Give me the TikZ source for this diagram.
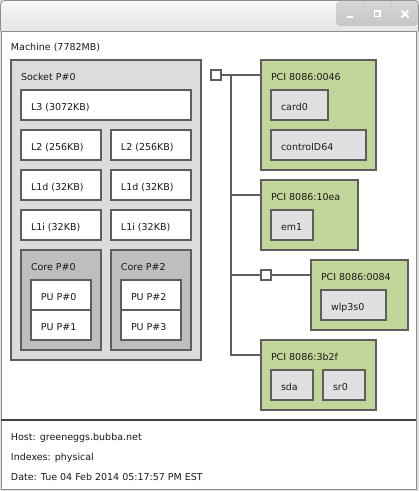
\documentclass[tikz,border=0pt]{standalone}
\usepackage{fontspec}
\setmainfont{DejaVu Sans}
\usetikzlibrary{calc}
\definecolor{edge}{HTML}{5E5E5E}
\definecolor{sockfill}{HTML}{DCDCDC}
\definecolor{corefill}{HTML}{BEBEBE}
\definecolor{pcifill}{HTML}{C2D69A}
\definecolor{osfill}{HTML}{E0E0E0}
\definecolor{frame}{HTML}{8E8E8E}
\tikzset{
  box/.style={draw=edge, line width=1.1pt, inner sep=0pt, outer sep=0pt, anchor=north west},
  lbl/.style={inner sep=0pt, outer sep=0pt, anchor=base west, font=\fontsize{9.5}{11}\selectfont, text=black!90},
  conn/.style={draw=edge, line width=1.1pt},
  bridge/.style={draw=edge, fill=white, line width=1.1pt, inner sep=0pt, minimum size=10pt},
}
\newcommand{\bx}[7]{%
  \node[box, #6, minimum width={(#4)-(#2)}, minimum height={(#5)-(#3)}] (#1) at (#2,#3) {};
  \node[lbl] (#1-t) at ({#2+10},{#3+20}) {#7};}
\begin{document}
\begin{tikzpicture}[x=1pt,y=-1pt]
\useasboundingbox (0,0) rectangle (419,491);
% window frame
\fill[black!12] (0,0) rectangle (419,491);
\shade[top color=black!3, bottom color=black!10, draw=frame, line width=0.8pt, rounded corners=4pt]
  (0.5,31) -- (0.5,0.5) -- (418.5,0.5) -- (418.5,31);
\shade[top color=black!16, bottom color=black!22, rounded corners=4pt]
  (336,0.9) -- (336,26) -- (418.1,26) -- (418.1,0.9) -- cycle;
\draw[white!80!black, line width=0.8pt] (363,1) -- (363,26) (391,1) -- (391,26);
\draw[white, line width=2pt] (347,17) -- (353,17);
\draw[white, line width=1.8pt] (374.5,11) rectangle (380,16.5);
\draw[white, line width=2pt] (401.5,10.5) -- (408.5,17.5) (401.5,17.5) -- (408.5,10.5);
\fill[white, draw=frame, line width=0.8pt] (1,31) rectangle (416,489);
\draw[black!75, line width=1.2pt] (1,420) -- (416,420);
% machine
\node[lbl] (mach) at (11,50) {Machine (7782MB)};
% socket
\bx{sock}{11}{60}{201}{360}{fill=sockfill}{Socket P\#0}
\bx{l3}{21}{90}{191}{120}{fill=white}{L3 (3072KB)}
\bx{l2a}{21}{130}{101}{160}{fill=white}{L2 (256KB)}
\bx{l2b}{111}{130}{191}{160}{fill=white}{L2 (256KB)}
\bx{l1da}{21}{170}{101}{200}{fill=white}{L1d (32KB)}
\bx{l1db}{111}{170}{191}{200}{fill=white}{L1d (32KB)}
\bx{l1ia}{21}{210}{101}{240}{fill=white}{L1i (32KB)}
\bx{l1ib}{111}{210}{191}{240}{fill=white}{L1i (32KB)}
\bx{corea}{21}{250}{101}{350}{fill=corefill}{Core P\#0}
\bx{coreb}{111}{250}{191}{350}{fill=corefill}{Core P\#2}
\bx{pu0}{31}{280}{91}{310}{fill=white}{PU P\#0}
\bx{pu1}{31}{310}{91}{340}{fill=white}{PU P\#1}
\bx{pu2}{121}{280}{181}{310}{fill=white}{PU P\#2}
\bx{pu3}{121}{310}{181}{340}{fill=white}{PU P\#3}
% PCI devices
\bx{pci1}{261}{60}{376}{170}{fill=pcifill}{PCI 8086:0046}
\bx{card}{271}{90}{328}{120}{fill=osfill}{card0}
\bx{ctrl}{271}{130}{366}{160}{fill=osfill}{controlD64}
\bx{pci2}{261}{180}{358}{250}{fill=pcifill}{PCI 8086:10ea}
\bx{em}{271}{210}{313}{240}{fill=osfill}{em1}
\bx{pci3}{311}{260}{408}{330}{fill=pcifill}{PCI 8086:0084}
\bx{wlp}{321}{290}{386}{320}{fill=osfill}{wlp3s0}
\bx{pci4}{261}{340}{376}{410}{fill=pcifill}{PCI 8086:3b2f}
\bx{sda}{271}{370}{313}{400}{fill=osfill}{sda}
\bx{sr}{323}{370}{365}{400}{fill=osfill}{sr0}
% bridges and bus
\node[bridge] (hb) at (216,75) {};
\node[bridge] (pb) at (266,275) {};
\coordinate (j1) at ($(pci1.north west)+(0,15)$);
\coordinate (j2) at ($(pci2.north west)+(0,15)$);
\coordinate (j3) at ($(pci3.north west)+(0,15)$);
\coordinate (j4) at ($(pci4.north west)+(0,15)$);
\coordinate (bt) at (231,75);
\coordinate (bb) at (231,355);
\draw[conn] (hb.east) -- (j1);
\draw[conn] (bt) -- (bb |- j4) -- (j4);
\draw[conn] (bt |- j2) -- (j2);
\draw[conn] (bt |- pb) -- (pb.west);
\draw[conn] (pb.east) -- (j3);
% footer
\node[lbl] (host) at (11,440) {Host: greeneggs.bubba.net};
\node[lbl] (idx) at (11,460) {Indexes: physical};
\node[lbl] (date) at (11,480) {Date: Tue 04 Feb 2014 05:17:57 PM EST};
\end{tikzpicture}
\end{document}
